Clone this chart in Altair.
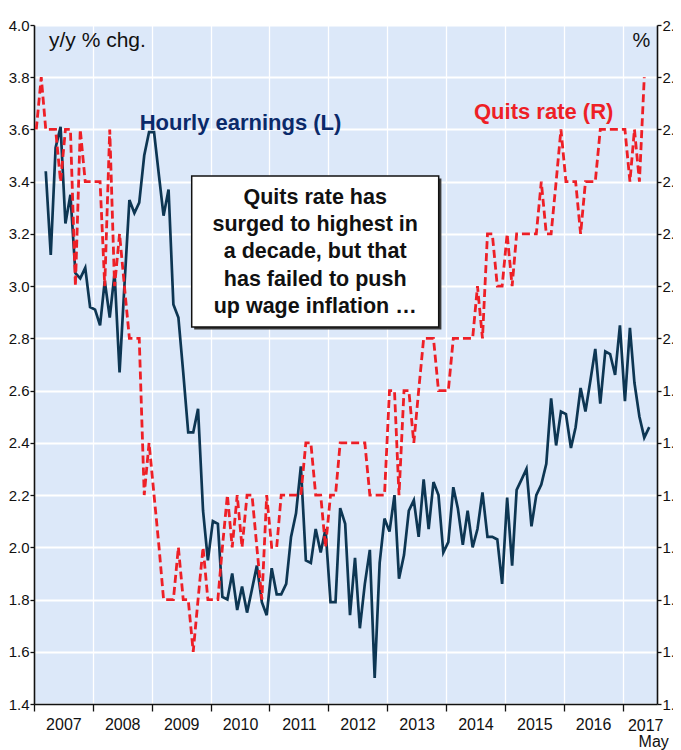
import altair as alt
import pandas as pd

# ---------------- data ----------------
quits_start = "2007-01"
quits_rate = [
    2.4, 2.5, 2.4, 2.4, 2.4, 2.3, 2.4, 2.4, 2.1, 2.4, 2.3, 2.3,   # 2007
    2.3, 2.3, 2.1, 2.4, 2.1, 2.2, 2.1, 2.0, 2.0, 2.0, 1.7, 1.8,   # 2008
    1.7, 1.6, 1.5, 1.5, 1.5, 1.6, 1.5, 1.5, 1.4, 1.5, 1.6, 1.5,   # 2009
    1.5, 1.5, 1.6, 1.7, 1.6, 1.7, 1.6, 1.7, 1.7, 1.6, 1.5, 1.7,   # 2010
    1.6, 1.6, 1.7, 1.7, 1.7, 1.7, 1.7, 1.8, 1.8, 1.7, 1.7, 1.6,   # 2011
    1.7, 1.7, 1.8, 1.8, 1.8, 1.8, 1.8, 1.8, 1.7, 1.7, 1.7, 1.7,   # 2012
    1.9, 1.9, 1.7, 1.9, 1.9, 1.8, 1.9, 2.0, 2.0, 2.0, 1.9, 1.9,   # 2013
    1.9, 2.0, 2.0, 2.0, 2.0, 2.0, 2.1, 2.0, 2.2, 2.2, 2.1, 2.1,   # 2014
    2.2, 2.1, 2.2, 2.2, 2.2, 2.2, 2.2, 2.3, 2.2, 2.2, 2.3, 2.4,   # 2015
    2.3, 2.3, 2.3, 2.2, 2.3, 2.3, 2.3, 2.4, 2.4, 2.4, 2.4, 2.4,   # 2016
    2.4, 2.3, 2.4, 2.3, 2.5,                                      # 2017 (to May)
]

earnings_start = "2007-03"
hourly_earnings = [
    3.44, 3.12, 3.53, 3.61, 3.24, 3.35, 3.05, 3.03, 3.07, 2.92,              # 2007 (Mar-Dec)
    2.91, 2.85, 3.02, 2.88, 3.05, 2.67, 3.00, 3.33, 3.28, 3.32, 3.50, 3.59,  # 2008
    3.59, 3.42, 3.27, 3.37, 2.93, 2.88, 2.67, 2.44, 2.44, 2.53, 2.14, 1.95,  # 2009
    2.10, 2.09, 1.81, 1.80, 1.90, 1.76, 1.85, 1.75, 1.84, 1.93, 1.79, 1.74,  # 2010
    1.92, 1.82, 1.82, 1.86, 2.04, 2.13, 2.31, 1.95, 1.94, 2.07, 1.98, 2.07,  # 2011
    1.79, 1.79, 2.15, 2.09, 1.74, 1.96, 1.69, 1.86, 1.99, 1.50, 1.94, 2.11,  # 2012
    2.06, 2.20, 1.88, 1.97, 2.14, 2.18, 2.04, 2.26, 2.07, 2.25, 2.20, 1.98,  # 2013
    2.02, 2.23, 2.15, 2.01, 2.14, 2.00, 2.07, 2.21, 2.04, 2.04, 2.03, 1.86,  # 2014
    2.19, 1.93, 2.22, 2.26, 2.30, 2.08, 2.20, 2.24, 2.32, 2.57, 2.39, 2.52,  # 2015
    2.51, 2.38, 2.46, 2.61, 2.52, 2.64, 2.76, 2.55, 2.75, 2.74, 2.66, 2.85,  # 2016
    2.56, 2.84, 2.63, 2.50, 2.42, 2.46,                                      # 2017 (to Jun)
]

years = list(range(2007, 2018))
left_ticks = [1.4, 1.6, 1.8, 2.0, 2.2, 2.4, 2.6, 2.8, 3.0, 3.2, 3.4, 3.6, 3.8, 4.0]
right_ticks = [1.3, 1.4, 1.5, 1.6, 1.7, 1.8, 1.9, 2.0, 2.1, 2.2, 2.3, 2.4, 2.5, 2.6]

unit_label = "y/y % chg."
right_unit = "%"
earnings_label = "Hourly earnings (L)"
quits_label = "Quits rate (R)"
last_year_label = "2017"
last_month_label = "May"
box_text = "Quits rate has\nsurged to highest in\na decade, but that\nhas failed to push\nup wage inflation \u2026"


def monthly(start, values):
    d = pd.date_range(start=start + "-01", periods=len(values), freq="MS") + pd.Timedelta(days=14)
    return pd.DataFrame({"date": d.strftime("%Y-%m-%d"), "value": values})


quits_df = monthly(quits_start, quits_rate)
ahe_df = monthly(earnings_start, hourly_earnings)

# ---------------- styling ----------------
W, H = 623, 679
NAVY_LINE = "#0d3653"
NAVY_TEXT = "#0b2a6a"
RED = "#ee1f26"
BG = "#dce8f9"
FONT = "Liberation Sans, Arial, sans-serif"
TICKFONT = "Liberation Sans, Arial, sans-serif"

x_scale = alt.Scale(
    type="utc",
    domain=[alt.DateTime(year=2007, month=1, date=1, utc=True),
            alt.DateTime(year=2017, month=8, date=2, utc=True)],
)
x_axis = alt.Axis(
    title=None,
    values=[alt.DateTime(year=y, month=1, date=1, utc=True) for y in years],
    labelExpr="utcFormat(datum.value, '%Y') == '2017' ? '' : utcFormat(datum.value, '%Y')",
    labelOffset=29.4,
    labelFlush=False,
    labelOverlap=False,
    labelFont=TICKFONT,
    labelFontSize=16,
    labelColor="#111",
    labelPadding=5,
    tickSize=7,
    tickColor="#111",
    tickWidth=1.3,
    domainColor="#111",
    domainWidth=1.6,
    grid=True,
    gridColor="white",
    gridWidth=1.3,
)

left_axis = alt.Axis(
    title=None,
    values=left_ticks,
    format=".1f",
    labelFont=TICKFONT,
    labelFontSize=15,
    labelColor="#111",
    labelPadding=1,
    tickSize=4,
    tickColor="#111",
    tickWidth=1.3,
    domainColor="#111",
    domainWidth=1.6,
    grid=True,
    gridColor="white",
    gridWidth=1.8,
)

right_axis = alt.Axis(
    title=None,
    orient="right",
    values=right_ticks,
    format=".1f",
    labelFont=TICKFONT,
    labelFontSize=15,
    labelColor="#111",
    labelPadding=1,
    tickSize=4,
    tickColor="#111",
    tickWidth=1.3,
    domainColor="#111",
    domainWidth=1.6,
    grid=False,
)

earn_line = alt.Chart(ahe_df).mark_line(
    color=NAVY_LINE, strokeWidth=2.7, strokeJoin="miter"
).encode(
    x=alt.X("date:T", scale=x_scale, axis=x_axis),
    y=alt.Y("value:Q", scale=alt.Scale(domain=[1.4, 4.0], nice=False, zero=False), axis=left_axis),
)

quits_line = alt.Chart(quits_df).mark_line(
    color=RED, strokeWidth=2.8, strokeDash=[8, 4]
).encode(
    x=alt.X("date:T", scale=x_scale, axis=x_axis),
    y=alt.Y("value:Q", scale=alt.Scale(domain=[1.3, 2.6], nice=False, zero=False), axis=right_axis),
)

one = pd.DataFrame({"k": [0]})

shadow = alt.Chart(one).mark_rect(fill="#3a3a3a").encode(
    x=alt.value(160.2), x2=alt.value(407.4), y=alt.value(153.5), y2=alt.value(304.5)
)
box = alt.Chart(one).mark_rect(fill="white", stroke="#111", strokeWidth=1.5).encode(
    x=alt.value(157.7), x2=alt.value(404.7), y=alt.value(151), y2=alt.value(302)
)
box_txt = alt.Chart(pd.DataFrame({"t": [box_text]})).mark_text(
    font=FONT, fontSize=21.5, fontWeight="bold", color="#111",
    align="center", baseline="alphabetic", lineBreak="\n", lineHeight=27.2,
).encode(x=alt.value(281.2), y=alt.value(179), text="t:N")

unit_txt = alt.Chart(pd.DataFrame({"t": [unit_label]})).mark_text(
    font=FONT, fontSize=21, color="#111", align="left", baseline="alphabetic"
).encode(x=alt.value(15), y=alt.value(21.7), text="t:N")

pct_txt = alt.Chart(pd.DataFrame({"t": [right_unit]})).mark_text(
    font=FONT, fontSize=20, color="#111", align="left", baseline="alphabetic"
).encode(x=alt.value(598.4), y=alt.value(21.7), text="t:N")

earn_txt = alt.Chart(pd.DataFrame({"t": [earnings_label]})).mark_text(
    font=FONT, fontSize=22, fontWeight="bold", color=NAVY_TEXT, align="left", baseline="alphabetic"
).encode(x=alt.value(105.7), y=alt.value(105), text="t:N")

quits_txt = alt.Chart(pd.DataFrame({"t": [quits_label]})).mark_text(
    font=FONT, fontSize=22, fontWeight="bold", color=RED, align="left", baseline="alphabetic"
).encode(x=alt.value(440), y=alt.value(94.3), text="t:N")

year17_txt = alt.Chart(pd.DataFrame({"t": [last_year_label]})).mark_text(
    font=TICKFONT, fontSize=16, color="#111", align="center", baseline="alphabetic"
).encode(x=alt.value(611.7), y=alt.value(705.5), text="t:N")

may_txt = alt.Chart(pd.DataFrame({"t": [last_month_label]})).mark_text(
    font=TICKFONT, fontSize=16, color="#111", align="center", baseline="alphabetic"
).encode(x=alt.value(619.7), y=alt.value(721.5), text="t:N")

chart = alt.layer(
    earn_line, quits_line, shadow, box, box_txt, unit_txt, pct_txt, earn_txt, quits_txt,
    year17_txt, may_txt
).resolve_scale(
    y="independent"
).properties(
    width=W,
    height=H,
    autosize=alt.AutoSizeParams(type="none"),
    padding={"left": 26, "top": 17, "right": 16, "bottom": 46},
    background="white",
).configure_view(
    fill=BG,
    stroke="transparent",
)

chart.save("out.html", embed_options={"renderer": "svg", "actions": False})
